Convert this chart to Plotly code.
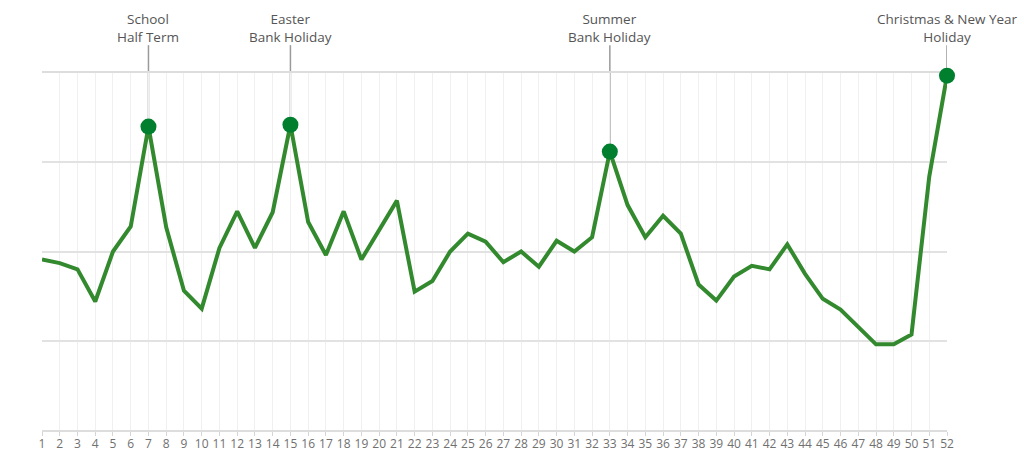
import plotly.graph_objects as go

weeks = list(range(1, 53))
visits = [191, 187, 180, 144, 200, 228, 340, 227, 156, 136, 204, 245, 204, 244, 342,
          233, 196, 245, 191, 225, 257, 155, 167, 200, 220, 211, 188, 200, 183, 212,
          200, 216, 312, 252, 216, 240, 220, 163, 145, 172, 184, 180, 208, 175, 147,
          135, 116, 96, 96, 107, 284, 397]

event_weeks = [7, 15, 33, 52]
event_labels = ["School<br>Half Term", "Easter<br>Bank Holiday",
                "Summer<br>Bank Holiday", "Christmas & New Year<br>Holiday"]

YMAX = 400
LABEL_PAPER_Y = 1.078  # leader line top, in paper units above the plot
MARKER_GAP = 0.02      # stop leader line at marker edge

fig = go.Figure()

# leader lines
for w in event_weeks:
    v = visits[weeks.index(w)]
    fig.add_shape(type="line", xref="x", yref="paper", x0=w, x1=w,
                  y0=v / YMAX + MARKER_GAP, y1=LABEL_PAPER_Y, layer="below",
                  line=dict(color="#9a9a9a", width=1.5))

fig.add_trace(go.Scatter(x=weeks, y=visits, mode="lines",
                         line=dict(color="#338a2e", width=4),
                         cliponaxis=False, showlegend=False))

fig.add_trace(go.Scatter(x=event_weeks,
                         y=[visits[weeks.index(w)] for w in event_weeks],
                         mode="markers",
                         marker=dict(color="#00802f", size=16),
                         cliponaxis=False, showlegend=False))

label_font = dict(family="Open Sans", size=13.5, color="#555555")
for w, t in zip(event_weeks, event_labels):
    fig.add_annotation(x=w, y=LABEL_PAPER_Y, xref="x", yref="paper", text=t,
                       showarrow=False, yanchor="bottom", yshift=-2,
                       font=label_font, align="center", borderpad=0)

fig.update_layout(
    width=1024, height=470,
    margin=dict(l=42, r=77, t=73, b=40),
    paper_bgcolor="white", plot_bgcolor="white",
    xaxis=dict(range=[1, 52], tickmode="array", tickvals=weeks,
               ticktext=[str(w) for w in weeks],
               showgrid=True, gridcolor="#f0f0f0", gridwidth=1,
               showline=True, mirror=True, linecolor="#dddddd", linewidth=2,
               ticks="outside", ticklen=4, tickcolor="#d5d5d5",
               ticklabelstandoff=-2, layer="below traces",
               tickfont=dict(family="Open Sans", size=12, color="#707070"),
               zeroline=False, fixedrange=True),
    yaxis=dict(range=[0, YMAX], dtick=100, showgrid=True, gridcolor="#e2e2e2",
               gridwidth=2, showticklabels=False, zeroline=False, fixedrange=True),
)

fig.write_html("out.html")
